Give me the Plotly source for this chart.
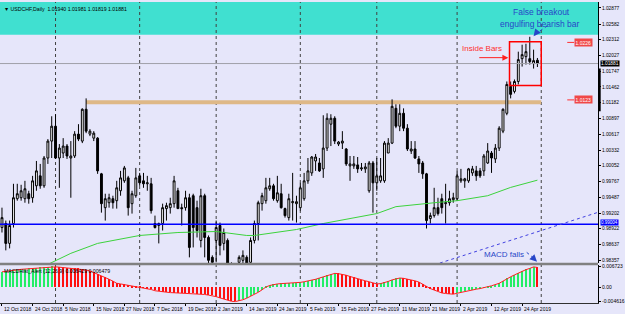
import plotly.graph_objects as go

# ---------------- data ----------------
open_ = [0.98943,0.99015,0.98659,0.99015,0.99460,0.99477,0.99460,0.99549,0.99477,0.99691,
0.99869,0.99691,1.00189,1.00492,1.00759,1.00189,1.00278,1.00403,1.00189,1.00225,
1.00617,1.00492,1.01062,1.00617,1.00545,1.00545,0.99905,0.99299,0.99388,0.99460,
0.99424,0.99602,0.99780,0.99833,0.99371,0.99513,0.99869,0.99780,0.99727,0.99727,
0.99015,0.98979,0.99015,0.99282,0.99299,0.99371,0.99602,0.99299,0.99299,0.99477,
0.99513,0.99299,0.98712,0.99513,0.98765,0.98409,0.98712,0.98979,0.98659,0.98712,
0.98267,0.98089,0.98320,0.98356,0.98409,0.98320,0.98712,0.99015,0.99371,0.99424,
0.99638,0.99691,0.99424,0.99549,0.99282,0.99121,0.99388,0.99371,0.99299,0.99460,
0.99780,0.99922,1.00136,1.00100,0.99994,1.00367,1.00795,1.00901,1.00439,1.00456,
1.00350,1.00047,1.00047,1.00065,0.99994,0.99994,0.99602,1.00100,0.99744,0.99780,
0.99780,1.00278,1.00456,1.01079,1.00759,1.00990,1.00723,1.00314,1.00350,1.00172,
1.00100,0.99905,0.99104,0.99157,0.99299,0.99460,0.99371,0.99388,0.99442,0.99460,
0.99780,0.99780,0.99780,0.99922,0.99958,0.99958,0.99958,1.00100,1.00278,1.00172,
1.00367,1.00670,1.00990,1.01471,1.01382,1.01560,1.01969,1.02005,1.01969,1.01880,
1.01940]
high_ = [0.99299,0.99068,0.99068,0.99727,0.99727,0.99709,0.99780,0.99602,0.99869,1.00136,
1.00083,1.00225,1.00528,1.00937,1.00973,1.00439,1.00545,1.00439,1.00492,1.00670,
1.00795,1.01079,1.01257,1.00706,1.00670,1.00563,0.99922,0.99549,0.99549,0.99513,
0.99780,0.99958,1.00047,0.99869,0.99602,1.00011,0.99922,0.99922,0.99869,0.99833,
0.99157,0.99032,0.99371,0.99388,0.99477,0.99869,0.99655,0.99371,0.99602,0.99549,
0.99549,0.99424,0.99638,0.99549,0.98801,0.98445,0.99068,0.99032,0.98926,0.98748,
0.98320,0.98249,0.98445,0.98534,0.98445,0.98765,0.99068,0.99424,0.99566,0.99833,
0.99833,0.99727,0.99869,0.99727,0.99299,0.99549,0.99922,0.99513,0.99744,0.99922,
1.00189,1.00225,1.00261,1.00189,1.00955,1.00990,1.00973,1.00937,1.00492,1.00670,
1.00367,1.00225,1.00225,1.00207,1.00100,1.00100,1.00136,1.00136,1.00189,1.00189,
1.00492,1.00545,1.01240,1.01151,1.01151,1.01079,1.00795,1.00492,1.00492,1.00225,
1.00136,0.99922,0.99210,0.99655,0.99477,0.99549,0.99727,0.99602,0.99566,0.99958,
0.99994,0.99833,1.00011,1.00047,1.00047,1.00011,1.00261,1.00456,1.00314,1.00439,
1.00759,1.01079,1.01560,1.01560,1.01596,1.02094,1.02219,1.02236,1.02361,1.02130,
1.01981]
low_ = [0.98854,0.98534,0.98570,0.98943,0.99424,0.99424,0.99388,0.99371,0.99388,0.99602,
0.99638,0.99655,1.00083,1.00189,1.00172,0.99655,1.00189,1.00172,0.99477,1.00189,
1.00492,1.00456,1.00634,1.00581,1.00492,0.99905,0.99210,0.99068,0.99299,0.99282,
0.99282,0.99513,0.99744,0.99157,0.99193,0.99477,0.99691,0.99655,0.99602,0.99193,
0.98926,0.98659,0.98890,0.99068,0.99193,0.99299,0.99282,0.98979,0.99246,0.98409,
0.98587,0.98765,0.98587,0.98409,0.98267,0.98142,0.98320,0.98445,0.98534,0.98142,
0.97964,0.97911,0.98178,0.98303,0.98214,0.98267,0.98659,0.98712,0.99246,0.99371,
0.99602,0.99424,0.99388,0.99282,0.99121,0.99068,0.99068,0.99032,0.99246,0.99424,
0.99727,0.99869,0.99958,0.99940,0.99833,1.00314,1.00403,1.00439,1.00403,1.00350,
1.00047,0.99780,0.99994,0.99922,0.99958,0.99922,0.99566,0.99210,0.99602,0.99744,
0.99744,1.00278,1.00439,1.00723,1.00670,1.00670,1.00314,1.00261,1.00172,0.99922,
0.99816,0.98926,0.99015,0.99121,0.99157,0.99193,0.99015,0.99335,0.99388,0.99424,
0.99744,0.99655,0.99744,0.99869,0.99780,0.99833,0.99869,1.00083,0.99922,1.00100,
1.00314,1.00634,1.00955,1.01257,1.01346,1.01507,1.01827,1.01863,1.01863,1.01791,
1.01819]
close_ = [0.99121,0.98659,0.98979,0.99477,0.99549,0.99602,0.99638,0.99460,0.99780,0.99958,
0.99691,1.00189,1.00492,1.00759,1.00189,1.00367,1.00403,1.00225,1.00225,1.00617,
1.00528,1.01062,1.00670,1.00670,1.00634,0.99958,0.99371,0.99460,0.99477,0.99388,
0.99655,0.99833,1.00011,0.99299,0.99549,0.99833,0.99744,0.99727,0.99744,0.99246,
0.98943,0.99015,0.99299,0.99335,0.99371,0.99780,0.99282,0.99282,0.99477,0.98587,
0.98943,0.98890,0.99513,0.98765,0.98356,0.98320,0.98943,0.98623,0.98854,0.98303,
0.98089,0.98142,0.98409,0.98445,0.98303,0.98712,0.99015,0.99388,0.99513,0.99655,
0.99691,0.99460,0.99566,0.99299,0.99157,0.99460,0.99406,0.99406,0.99655,0.99780,
0.99958,1.00207,1.00207,0.99958,1.00367,1.00901,1.00901,1.00492,1.00474,1.00492,
1.00083,1.00083,1.00083,0.99994,1.00011,1.00029,1.00100,0.99744,0.99869,0.99869,
1.00456,1.00456,1.01115,1.00759,1.00990,1.00723,1.00350,1.00350,1.00189,1.00083,
0.99905,0.99068,0.99157,0.99299,0.99193,0.99299,0.99388,0.99460,0.99477,0.99869,
0.99816,0.99816,0.99994,0.99994,0.99869,0.99869,1.00225,1.00314,1.00189,1.00367,
1.00723,1.01062,1.01507,1.01329,1.01560,1.01952,1.02041,1.02094,1.01916,1.01934,
1.01881]

ma_idx = [11, 18, 25, 36, 46, 56, 64, 66, 77, 84, 98, 103, 114, 119, 127, 133, 140]
ma_val = [0.98250, 0.98481, 0.98659, 0.98801, 0.98854, 0.98872, 0.98801, 0.98801, 0.98908,
          0.99015, 0.99193, 0.99317, 0.99394, 0.99424, 0.99513, 0.99662, 0.99792]

macd = [0.0050,0.0052,0.0053,0.0055,0.0056,0.0058,0.0059,0.0060,0.0062,0.0063,
0.0064,0.0065,0.0066,0.0067,0.0066,0.0065,0.0064,0.0063,0.0062,0.0061,
0.0060,0.0058,0.0056,0.0053,0.0048,0.0042,0.0037,0.0032,0.0026,0.0020,
0.0013,0.0011,0.0009,0.0007,0.0005,0.0003,0.0001,-0.0001,-0.0003,-0.0007,
-0.0011,-0.0013,-0.0015,-0.0016,-0.0017,-0.00175,-0.0018,-0.00185,-0.0019,-0.00195,
-0.0020,-0.0021,-0.0022,-0.0023,-0.0025,-0.0027,-0.0030,-0.0034,-0.0038,-0.0042,
-0.0045,-0.0046,-0.0044,-0.0040,-0.0035,-0.0029,-0.0023,-0.0016,-0.0008,0.0001,
0.0006,0.0009,0.0011,0.0012,0.00125,0.0013,0.00135,0.0014,0.0016,0.0018,
0.0020,0.0023,0.0026,0.0030,0.0034,0.0039,0.0043,0.0045,0.0044,0.0042,
0.0039,0.0035,0.0031,0.0027,0.0024,0.0021,0.0018,0.0014,0.0011,0.0012,
0.0015,0.0019,0.0024,0.0028,0.0030,0.0029,0.0027,0.0024,0.0021,0.0017,
0.0011,0.0003,-0.0004,-0.0009,-0.0014,-0.0018,-0.0020,-0.0021,-0.0022,-0.0019,
-0.0016,-0.0013,-0.0010,-0.0008,-0.0006,-0.0004,-0.0002,0.0002,0.0005,0.0008,
0.0013,0.0020,0.0028,0.0034,0.0040,0.0046,0.0052,0.0057,0.0061,0.0066,
0.00643]

date_labels = ["12 Oct 2018","24 Oct 2018","5 Nov 2018","15 Nov 2018","27 Nov 2018",
               "7 Dec 2018","19 Dec 2018","2 Jan 2019","14 Jan 2019","24 Jan 2019",
               "5 Feb 2019","15 Feb 2019","27 Feb 2019","11 Mar 2019","21 Mar 2019",
               "2 Apr 2019","12 Apr 2019","24 Apr 2019"]
date_idx = [0,8,16,24,32,40,48,56,64,72,80,88,96,104,112,120,128,136]
month_start_idx = [14, 36, 56, 78, 98, 119, 141]

price_ticks = [1.02877,1.02582,1.02312,1.02027,1.01747,1.01462,1.01182,1.00897,1.00617,
               1.00332,1.00052,0.99767,0.99487,0.99202,0.98922,0.98637,0.98357]
macd_ticks = [0.006723, 0.0, -0.004616]
macd_tick_text = ["0.006723", "0.00", "-0.004616"]

current_price = 1.01881
support_level = 0.99004
resistance_band = (1.01151, 1.01222)
resistance_start = 22
supply_zone_low = 1.02397
alert_levels = [1.0226, 1.0123]
alert_texts = ["1.0226", "1.0123"]
trend_pts = [(110, 0.98208), (156, 0.99219)]
inside_box = (132.7, 141.0, 1.01489, 1.02272)

title_text = "\u25bc USDCHF,Daily  1.01940 1.01981 1.01819 1.01881"
macd_title = "MACDHist_Alert (12,26,9) 0.006429 0.006479"

# ---------------- figure ----------------
idx = list(range(len(close_)))
FONT = "Liberation Sans"
BLUE_TXT = "#2846c8"
RED_TXT = "#ff3030"

fig = go.Figure()

fig.add_trace(go.Candlestick(
    x=idx, open=open_, high=high_, low=low_, close=close_,
    increasing=dict(line=dict(color="black", width=1), fillcolor="white"),
    decreasing=dict(line=dict(color="black", width=1), fillcolor="black"),
    whiskerwidth=0, xaxis="x", yaxis="y", showlegend=False, hoverinfo="skip"))

fig.add_trace(go.Scatter(x=ma_idx, y=ma_val, mode="lines",
                         line=dict(color="#3cd23c", width=1),
                         xaxis="x", yaxis="y", showlegend=False, hoverinfo="skip"))

bar_colors = []
for k, v in enumerate(macd):
    if k == 0 or v >= macd[k - 1]:
        bar_colors.append("#22ee66")
    else:
        bar_colors.append("#ff1010")

fig.add_trace(go.Bar(x=idx, y=macd, marker=dict(color=bar_colors, line=dict(width=0)),
                     width=0.3, xaxis="x", yaxis="y2", showlegend=False, hoverinfo="skip"))
fig.add_trace(go.Scatter(x=idx, y=macd, mode="lines", line=dict(color="#ff2020", width=1),
                         xaxis="x", yaxis="y2", showlegend=False, hoverinfo="skip"))

shapes = []
shapes.append(dict(type="rect", xref="paper", yref="y", x0=0, x1=1, y0=supply_zone_low, y1=1.04,
                   fillcolor="#40e0d0", line=dict(width=0), layer="below"))
shapes.append(dict(type="rect", xref="x", yref="y", x0=resistance_start, x1=141,
                   y0=resistance_band[0], y1=resistance_band[1],
                   fillcolor="#deb887", line=dict(width=0), layer="below"))
for m in month_start_idx:
    shapes.append(dict(type="line", xref="x", yref="paper", x0=m, x1=m, y0=0, y1=1,
                       line=dict(color="#404040", width=1, dash="dot"), layer="below"))
shapes.append(dict(type="line", xref="paper", yref="y", x0=0, x1=1, y0=current_price, y1=current_price,
                   line=dict(color="#a0a0a8", width=1)))
shapes.append(dict(type="line", xref="paper", yref="y", x0=0, x1=1, y0=support_level, y1=support_level,
                   line=dict(color="#0000ff", width=1.5)))
shapes.append(dict(type="line", xref="x", yref="y", x0=trend_pts[0][0], y0=trend_pts[0][1],
                   x1=trend_pts[1][0], y1=trend_pts[1][1],
                   line=dict(color="#4040e0", width=1, dash="dot")))
shapes.append(dict(type="rect", xref="x", yref="y", x0=inside_box[0], x1=inside_box[1],
                   y0=inside_box[2], y1=inside_box[3], line=dict(color="#ff0000", width=1.5)))
for lv in alert_levels:
    shapes.append(dict(type="line", xref="x", yref="y", x0=147.8, x1=149.6, y0=lv, y1=lv,
                       line=dict(color="#ff3030", width=1)))
shapes.append(dict(type="line", xref="x", yref="y", x0=142.6, y0=1.02557, x1=139.6, y1=1.02415,
                   line=dict(color=BLUE_TXT, width=1, dash="dot")))
shapes.append(dict(type="line", xref="x", yref="y", x0=137.2, y0=0.98498, x1=139.2, y1=0.98385,
                   line=dict(color=BLUE_TXT, width=1, dash="dot")))
shapes.append(dict(type="rect", xref="paper", yref="paper", x0=0, x1=1, y0=0.1254, y1=0.1337,
                   fillcolor="#808080", line=dict(width=0)))
shapes.append(dict(type="rect", xref="paper", yref="y", x0=1.0, x1=1.0045, y0=1.01026, y1=1.01791,
                   fillcolor="black", line=dict(width=0)))

annotations = []
annotations.append(dict(xref="paper", yref="paper", x=0.004, y=1, yshift=-2, xanchor="left", yanchor="top",
                        text=title_text, showarrow=False, font=dict(family=FONT, size=5.2, color="black")))
annotations.append(dict(xref="paper", yref="paper", x=0.004, y=0.1254, yshift=-1, xanchor="left", yanchor="top",
                        text=macd_title, showarrow=False, font=dict(family=FONT, size=5.2, color="black")))
for t, i in zip(date_labels, date_idx):
    annotations.append(dict(xref="x", yref="paper", x=i, y=0, xanchor="left", yanchor="top", xshift=0, yshift=-0.5,
                            text=t, showarrow=False, font=dict(family=FONT, size=5, color="black")))
annotations.append(dict(xref="x", yref="y", x=141.0, y=1.02806, text="False breakout", showarrow=False,
                        font=dict(family=FONT, size=8.5, color=BLUE_TXT)))
annotations.append(dict(xref="x", yref="y", x=140.8, y=1.02592, text="engulfing bearish bar", showarrow=False,
                        font=dict(family=FONT, size=8.5, color=BLUE_TXT)))
annotations.append(dict(xref="x", yref="y", x=139.0, y=1.02370, ax=139.8, ay=1.02440, axref="x", ayref="y",
                        text="", showarrow=True, arrowhead=2, arrowsize=1.2, arrowwidth=1.2, arrowcolor=BLUE_TXT))
annotations.append(dict(xref="x", yref="y", x=125.5, y=1.02147, text="Inside Bars", showarrow=False,
                        font=dict(family=FONT, size=8, color=RED_TXT)))
annotations.append(dict(xref="x", yref="y", x=132.4, y=1.01987, ax=124.4, ay=1.01987, axref="x", ayref="y",
                        text="", showarrow=True, arrowhead=2, arrowsize=1.2, arrowwidth=1, arrowcolor="#ff2020"))
annotations.append(dict(xref="x", yref="y", x=131.2, y=0.98463, text="MACD falls", showarrow=False,
                        font=dict(family=FONT, size=8, color=BLUE_TXT)))
annotations.append(dict(xref="x", yref="y", x=139.9, y=0.98330, ax=139.0, ay=0.98390, axref="x", ayref="y",
                        text="", showarrow=True, arrowhead=2, arrowsize=1.2, arrowwidth=1.2, arrowcolor=BLUE_TXT))
for lv, tx in zip(alert_levels, alert_texts):
    annotations.append(dict(xref="x", yref="y", x=149.6, y=lv, xanchor="left", text=tx, showarrow=False,
                            bgcolor="#f04848", borderpad=0.5,
                            font=dict(family=FONT, size=5, color="white")))
annotations.append(dict(xref="paper", yref="y", x=1.0, y=current_price, xanchor="left", xshift=2,
                        text="1.01881", showarrow=False, bgcolor="black", borderpad=0,
                        font=dict(family=FONT, size=4.8, color="white")))
annotations.append(dict(xref="paper", yref="y", x=1.0, y=support_level, xanchor="left", xshift=2, yshift=1.2,
                        text="0.99004", showarrow=False, bgcolor="#0000ff", borderpad=0,
                        font=dict(family=FONT, size=4.5, color="white")))

fig.update_layout(
    width=625, height=314,
    margin=dict(l=0, r=23, t=0, b=11, pad=0),
    paper_bgcolor="#e6e6fa", plot_bgcolor="#e6e6fa",
    bargap=0, showlegend=False,
    shapes=shapes, annotations=annotations,
    xaxis=dict(domain=[0, 1], range=[-0.519, 155.84], anchor="y2",
               rangeslider=dict(visible=False), showgrid=False, zeroline=False,
               tickvals=date_idx, showticklabels=False, ticks="outside", ticklen=2,
               tickcolor="black", showline=True, linecolor="#303030", linewidth=1),
    yaxis=dict(domain=[0.13201, 1], range=[0.98303, 1.02984], side="right", anchor="x",
               tickvals=price_ticks, ticktext=["%.5f" % v for v in price_ticks],
               tickfont=dict(family=FONT, size=4.8, color="black"), ticks="outside", ticklen=2,
               tickcolor="black", showgrid=False, zeroline=False, showline=True,
               linecolor="black", linewidth=1, fixedrange=True),
    yaxis2=dict(domain=[0, 0.1254], range=[-0.00505, 0.00712], side="right", anchor="x",
                tickvals=macd_ticks, ticktext=macd_tick_text,
                tickfont=dict(family=FONT, size=5, color="black"), ticks="outside", ticklen=2,
                tickcolor="black", showgrid=False, zeroline=False, showline=True,
                linecolor="black", linewidth=1),
)

fig.write_html("out.html")
